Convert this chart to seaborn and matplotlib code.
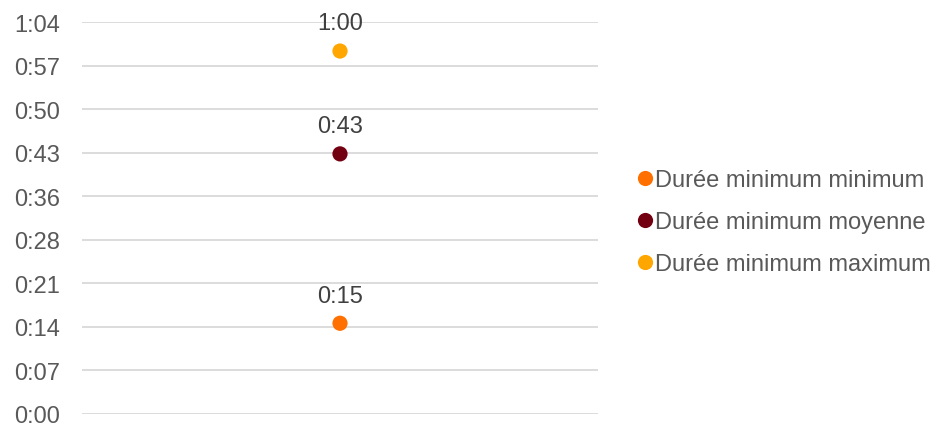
import numpy as np
import pandas as pd
import matplotlib
matplotlib.use("Agg")
import matplotlib.pyplot as plt
import seaborn as sns

# Data (minutes)
series = ["Durée minimum minimum", "Durée minimum moyenne", "Durée minimum maximum"]
values = [15, 43, 60]
labels = ["0:15", "0:43", "1:00"]
colors = ["#FF7000", "#730011", "#FFA600"]

df = pd.DataFrame({"serie": series, "minutes": values, "x": [0, 0, 0]})

sns.set_style("white")
plt.rcParams["font.family"] = ["Liberation Sans", "DejaVu Sans"]

fig = plt.figure(figsize=(9.38, 4.27), dpi=100)
ax = fig.add_axes([82 / 938, 1 - 415 / 427, (598 - 82) / 938, (415 - 23) / 427])

sns.scatterplot(data=df, x="x", y="minutes", hue="serie", palette=colors,
                s=120, edgecolor="none", ax=ax, zorder=3)

for v, lab in zip(values, labels):
    ax.annotate(lab, (0, v), xytext=(0, 12), textcoords="offset points",
                ha="center", va="bottom", fontsize=17, color="#404040")

ticks = np.arange(10) * 7.2
ax.set_yticks(ticks)
ax.set_yticklabels([f"{int(np.floor(t + 1e-6)) // 60}:{int(np.floor(t + 1e-6)) % 60:02d}" for t in ticks],
                   fontsize=17, color="#595959")
ax.set_ylim(0, 64.8)
ax.set_xlim(-1, 1)
ax.set_xticks([])
ax.set_xlabel("")
ax.set_ylabel("")
ax.yaxis.grid(True, color="#D9D9D9", linewidth=1.3)
ax.tick_params(axis="y", length=0, pad=16)
for s in ax.spines.values():
    s.set_visible(False)

leg = ax.legend(loc="center left", bbox_to_anchor=(638 / 938, 1 - 223 / 427),
                bbox_transform=fig.transFigure, frameon=False,
                fontsize=17, handlelength=0.6, handletextpad=0.12,
                labelspacing=0.85, borderaxespad=0, borderpad=0)
for t in leg.get_texts():
    t.set_color("#595959")

fig.savefig("out.png", dpi=100)
